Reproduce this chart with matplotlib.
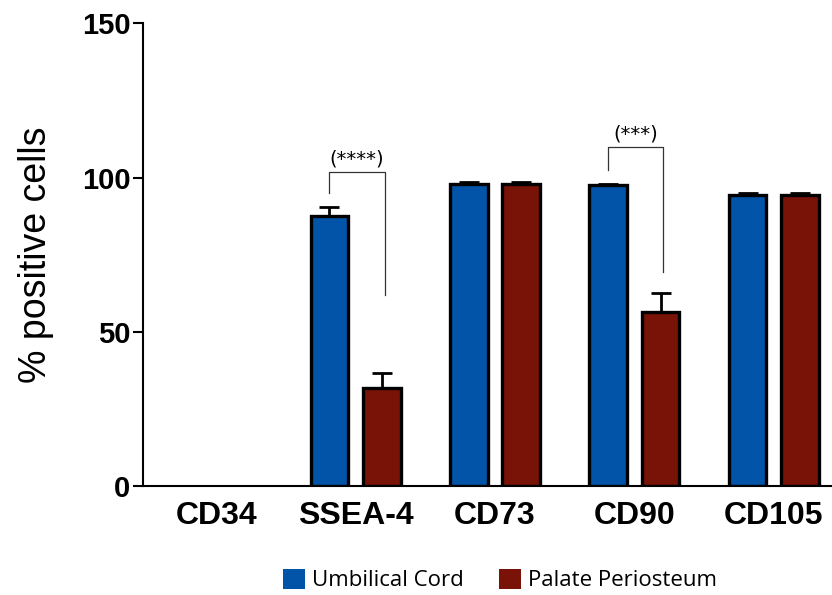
import matplotlib.pyplot as plt
import numpy as np
from matplotlib.patches import Patch

markers = ["CD34", "SSEA-4", "CD73", "CD90", "CD105"]
umbilical = [0.0, 87.5, 97.8, 97.5, 94.3]
umbilical_err = [0.0, 2.9, 0.6, 0.5, 0.8]
periosteum = [0.0, 31.7, 97.8, 56.4, 94.3]
periosteum_err = [0.0, 4.9, 0.7, 6.1, 0.8]

# significance brackets
sig_groups = [1, 3]
sig_labels = ["(****)", "(***)"]
sig_left = [94.9, 102.4]
sig_right = [61.9, 69.3]
sig_top = [101.7, 109.8]

blue = "#0254a8"
red = "#7a1307"

plt.rcParams["font.family"] = ["Liberation Sans", "DejaVu Sans"]

fig = plt.figure(figsize=(8.32, 5.95), dpi=100)
ax = fig.add_axes([0.172, 0.183, 0.83, 0.778])

x = np.arange(len(markers))
w = 0.27
off = 0.188
for vals, errs, col, sign in [(umbilical, umbilical_err, blue, -1),
                              (periosteum, periosteum_err, red, 1)]:
    lws = [2.4 if v > 0 else 0 for v in vals]
    ax.bar(x + sign * off, vals, w, color=col, edgecolor="black", linewidth=lws,
           zorder=2)
    keep = [i for i, v in enumerate(vals) if v > 0]
    ax.errorbar(x[keep] + sign * off, np.array(vals)[keep],
                yerr=[np.zeros(len(keep)), np.array(errs)[keep]], fmt="none",
                ecolor="black", elinewidth=2, capthick=2, capsize=7, zorder=1)

for g, lab, yl, yr, yt in zip(sig_groups, sig_labels, sig_left, sig_right, sig_top):
    xl, xr = g - off, g + off + 0.02
    ax.plot([xl, xl, xr, xr], [yl, yt, yt, yr], color="#333333", lw=0.9)
    ax.text((xl + xr) / 2, yt + 1.3, lab, ha="center", va="bottom", fontsize=14,
            family="DejaVu Sans")

ax.set_xlim(-0.525, 4.43)
ax.set_ylim(0, 150)
ax.set_yticks([0, 50, 100, 150])
ax.set_xticks(x)
ax.set_xticklabels(markers, fontsize=23, fontweight="bold")
for t in ax.get_yticklabels():
    t.set_fontsize(21)
    t.set_fontweight("bold")
ax.tick_params(axis="x", length=0, pad=11)
ax.tick_params(axis="y", length=7, width=1.5, pad=2)
ax.spines["top"].set_visible(False)
ax.spines["right"].set_visible(False)
ax.spines["left"].set_linewidth(1.5)
ax.spines["bottom"].set_linewidth(1.5)
ax.set_ylabel("% positive cells", fontsize=27, labelpad=20)

handles = [Patch(facecolor=blue, edgecolor="none", label="Umbilical Cord"),
           Patch(facecolor=red, edgecolor="none", label="Palate Periosteum")]
fig.legend(handles=handles, loc="center", bbox_to_anchor=(0.601, 0.025), ncol=2,
           frameon=False, handlelength=1.0, handleheight=1.0,
           handletextpad=0.3, columnspacing=1.6, prop={"family": "Open Sans", "size": 16})

fig.savefig("out.png", dpi=100)
